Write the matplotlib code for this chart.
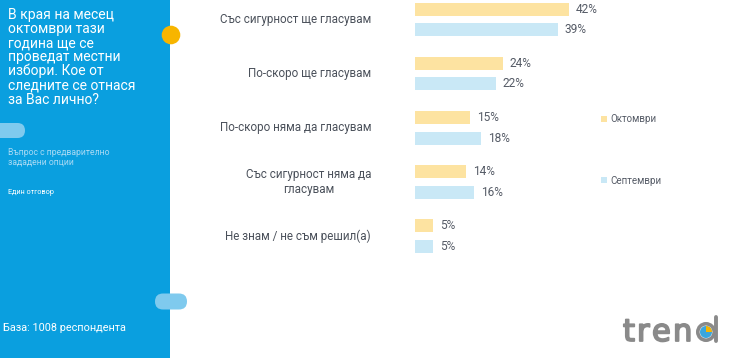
import matplotlib
matplotlib.use("Agg")
import matplotlib.pyplot as plt
from matplotlib.patches import Rectangle, FancyBboxPatch, Circle, Wedge
import matplotlib.patheffects as pe
import numpy as np

categories = [
    "Със сигурност ще гласувам",
    "По-скоро ще гласувам",
    "По-скоро няма да гласувам",
    "Със сигурност няма да\nгласувам",
    "Не знам / не съм решил(а)",
]
october = [42, 24, 15, 14, 5]
september = [39, 22, 18, 16, 5]
series_names = ["Октомври", "Септември"]

question = "В края на месец\nоктомври тази\nгодина ще се\nпроведат местни\nизбори. Кое от\nследните се отнася\nза Вас лично?"
subtitle1 = "Въпрос с предварително\nзададени опции"
subtitle2 = "Един отговор"
base_text = "База: 1008 респондента"

C_OCT = "#fde3a1"
C_SEP = "#c9e8f6"
C_PANEL = "#0a9fdf"
C_TEXT = "#555b66"
C_LOGO = "#8a8a8a"

plt.rcParams['font.family'] = ['Roboto', 'DejaVu Sans']

W, H = 740, 358
fig = plt.figure(figsize=(W / 100, H / 100), dpi=100)
fig.patch.set_facecolor("white")

# decoration axes in pixel coordinates
bg = fig.add_axes([0, 0, 1, 1], zorder=0)
bg.set_xlim(0, W)
bg.set_ylim(H, 0)
bg.axis("off")
bg.add_patch(Rectangle((0, 0), 170, H, color=C_PANEL, lw=0))
bg.add_patch(Circle((171, 35), 9.3, color="#f7b500", lw=0))
bg.add_patch(FancyBboxPatch((-10, 123), 35, 15, boxstyle="round,pad=0,rounding_size=7.5",
                            color="#7fcaee", lw=0))
bg.add_patch(FancyBboxPatch((155, 293.5), 32, 16, boxstyle="round,pad=0,rounding_size=8",
                            color="#7fcaee", lw=0))

bg.text(8, 8, question, color="white", fontsize=10, va="top", ha="left",
        linespacing=1.0)
bg.text(8, 148, subtitle1, color="#a9daf4", fontsize=6.2, va="top", ha="left", linespacing=1.1)
bg.text(8, 189, subtitle2, color="white", fontsize=5.2, va="top", ha="left")
bg.text(3, 328, base_text, color="white", fontsize=7.8, va="center", ha="left")

# logo
thick = [pe.withStroke(linewidth=1.3, foreground=C_LOGO)]
for ch, xx in zip("tren", [623, 637, 652, 673]):
    bg.text(xx, 341, ch, color=C_LOGO, fontsize=22, va="baseline", ha="left",
            fontfamily="DejaVu Sans", path_effects=thick)
bg.add_patch(Circle((706, 332), 8.2, color=C_LOGO, fill=False, lw=2.6))
bg.add_patch(Wedge((706, 332), 6.0, 0, 360, color="#3aa6dd", lw=0))
bg.add_patch(Wedge((706, 332), 6.0, -90, 0, color="#f7b500", lw=0))
bg.plot([715.5, 715.5], [317, 341], color=C_LOGO, lw=2.8, solid_capstyle="round")

# legend
bg.add_patch(Rectangle((601, 115.5), 6, 6, color=C_OCT, lw=0))
bg.text(610, 119, series_names[0], color=C_TEXT, fontsize=7, va="center", ha="left")
bg.add_patch(Rectangle((601, 177), 6, 6, color=C_SEP, lw=0))
bg.text(610, 180.5, series_names[1], color=C_TEXT, fontsize=7, va="center", ha="left")

# bar axes
px_per_unit = 3.667
left_px = 415
ax = fig.add_axes([left_px / W, 0, (W - left_px) / W, 1], zorder=1)
ax.patch.set_alpha(0)
ax.set_xlim(0, (W - left_px) / px_per_unit)
spacing = 54.1
top0 = 19.5
ax.set_ylim((H - top0) / spacing, -top0 / spacing)
ax.axis("off")

y = np.arange(len(categories))
off = 10.3 / spacing
h = 13 / spacing
ax.barh(y - off, october, height=h, color=C_OCT, lw=0)
ax.barh(y + off, september, height=h, color=C_SEP, lw=0)

for i in range(len(categories)):
    ax.annotate(f"{october[i]}%", (october[i], y[i] - off), xytext=(5, 0),
                textcoords="offset points", va="center", ha="left",
                color=C_TEXT, fontsize=8.6)
    ax.annotate(f"{september[i]}%", (september[i], y[i] + off), xytext=(5, 0),
                textcoords="offset points", va="center", ha="left",
                color=C_TEXT, fontsize=8.6)
    ax.annotate(categories[i], (0, y[i]), xytext=(-44, 0), xycoords="data",
                textcoords="offset pixels", va="center", ha="right",
                multialignment="center", color="#4a505a", fontsize=8.4,
                linespacing=1.15, annotation_clip=False)

fig.savefig("out.png", dpi=100, facecolor="white")
